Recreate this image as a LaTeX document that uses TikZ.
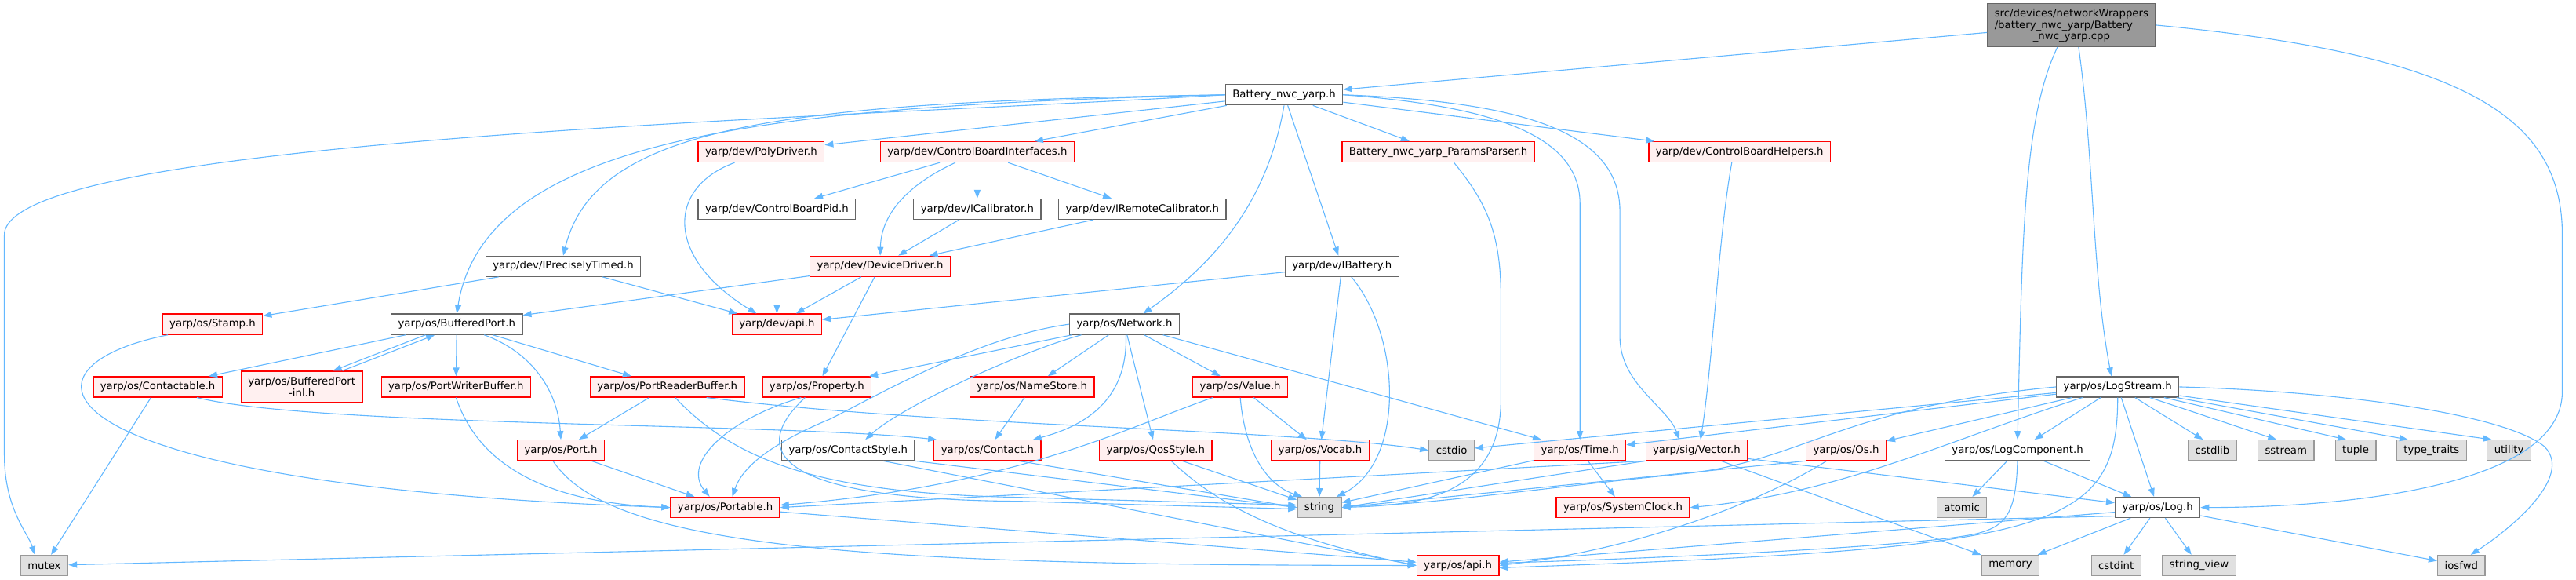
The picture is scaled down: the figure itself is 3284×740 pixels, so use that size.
\documentclass[tikz,border=0pt]{standalone}
\usepackage{fontspec}
\setmainfont{DejaVu Sans}
\usepackage{xcolor}
\usepackage{tikz}
\usetikzlibrary{arrows.meta, positioning}

\definecolor{edgeblue}{HTML}{63B8FF}
\definecolor{truncred}{HTML}{FF0000}
\definecolor{truncfill}{HTML}{FFF0F0}
\definecolor{sysfill}{HTML}{E0E0E0}
\definecolor{sysline}{HTML}{999999}
\definecolor{hdrline}{HTML}{666666}

\begin{document}
\begin{tikzpicture}[
    x=1pt, y=-1pt,
    box/.style={rectangle, draw, line width=1.3pt, minimum height=26pt, inner xsep=9pt, inner ysep=2pt, align=center, font=\fontsize{13.3}{15.5}\selectfont, fill=white},
    hdr/.style={box, draw=hdrline},
    trunc/.style={box, draw=truncred, fill=truncfill},
    syshdr/.style={box, draw=sysline, fill=sysfill},
    srcfile/.style={box, draw=hdrline, fill=sysline, minimum height=55pt},
    arrow/.style={-{Triangle[length=11pt, width=8pt]}, line width=1.1pt, color=edgeblue}
]
    \path[fill=white] (0,0) rectangle (3284,740);

    % Source file
    \node[srcfile] (root) at (2646,32) {\begin{tabular}{@{}l@{}}src/devices/networkWrappers\\/battery\_nwc\_yarp/Battery\end{tabular}\\\_nwc\_yarp.cpp};

    % Device headers
    \node[hdr] (bh) at (1640,121) {Battery\_nwc\_yarp.h};
    \node[trunc] (poly) at (972,194) {yarp/dev/PolyDriver.h};
    \node[trunc] (cbi) at (1248,194) {yarp/dev/ControlBoardInterfaces.h};
    \node[trunc] (params) at (1837,194) {Battery\_nwc\_yarp\_ParamsParser.h};
    \node[trunc] (cbhelp) at (2222,194) {yarp/dev/ControlBoardHelpers.h};
    \node[hdr] (cbpid) at (992,267) {yarp/dev/ControlBoardPid.h};
    \node[hdr] (ical) at (1248,267) {yarp/dev/ICalibrator.h};
    \node[hdr] (irem) at (1459,267) {yarp/dev/IRemoteCalibrator.h};
    \node[hdr] (iprec) at (719,340) {yarp/dev/IPreciselyTimed.h};
    \node[trunc] (ddrv) at (1124,340) {yarp/dev/DeviceDriver.h};
    \node[hdr] (ibat) at (1714,340) {yarp/dev/IBattery.h};

    % OS headers
    \node[trunc] (stamp) at (271,414) {yarp/os/Stamp.h};
    \node[hdr] (bport) at (583,414) {yarp/os/BufferedPort.h};
    \node[trunc] (devapi) at (992,414) {yarp/dev/api.h};
    \node[hdr] (network) at (1436,414) {yarp/os/Network.h};
    \node[trunc] (contactable) at (201,494) {yarp/os/Contactable.h};
    \node[trunc, minimum height=40pt] (bportinl) at (385,494) {yarp/os/BufferedPort\\-inl.h};
    \node[trunc] (pwbuf) at (582,494) {yarp/os/PortWriterBuffer.h};
    \node[trunc] (prbuf) at (852,494) {yarp/os/PortReaderBuffer.h};
    \node[trunc] (property) at (1043,494) {yarp/os/Property.h};
    \node[trunc] (namestore) at (1318,494) {yarp/os/NameStore.h};
    \node[trunc] (value) at (1584,494) {yarp/os/Value.h};
    \node[hdr] (logstream) at (2705,494) {yarp/os/LogStream.h};
    \node[trunc] (port) at (716,575) {yarp/os/Port.h};
    \node[hdr] (cstyle) at (1083,575) {yarp/os/ContactStyle.h};
    \node[trunc] (contact) at (1261,575) {yarp/os/Contact.h};
    \node[trunc] (qos) at (1476,575) {yarp/os/QosStyle.h};
    \node[trunc] (vocab) at (1686,575) {yarp/os/Vocab.h};
    \node[trunc] (time) at (2018,575) {yarp/os/Time.h};
    \node[trunc] (vector) at (2167,575) {yarp/sig/Vector.h};
    \node[trunc] (os) at (2358,575) {yarp/os/Os.h};
    \node[hdr] (logcomp) at (2577,575) {yarp/os/LogComponent.h};
    \node[trunc] (portable) at (926,648) {yarp/os/Portable.h};
    \node[trunc] (sysclock) at (2073,648) {yarp/os/SystemClock.h};
    \node[hdr] (log) at (2756,648) {yarp/os/Log.h};
    \node[trunc] (osapi) at (1862,722) {yarp/os/api.h};

    % System headers
    \node[syshdr] (cstdio) at (1854,575) {cstdio};
    \node[syshdr] (cstdlib) at (2826,575) {cstdlib};
    \node[syshdr] (sstream) at (2920,575) {sstream};
    \node[syshdr] (tuple) at (3009,575) {tuple};
    \node[syshdr] (typetraits) at (3106,575) {type\_traits};
    \node[syshdr] (utility) at (3205,575) {utility};
    \node[syshdr] (string) at (1685,648) {string};
    \node[syshdr] (atomic) at (2506,648) {atomic};
    \node[syshdr] (mutex) at (56,722) {mutex};
    \node[syshdr] (memory) at (2568,722) {memory};
    \node[syshdr] (cstdint) at (2703,722) {cstdint};
    \node[syshdr] (stringview) at (2809,722) {string\_view};
    \node[syshdr] (iosfwd) at (3144,722) {iosfwd};

    % Arrows from the source file
    \draw[arrow] (root) -- (bh);
    \draw[arrow] ([xshift=-18pt]root.south) .. controls (2585,150) and (2583,300) .. (logcomp.north);
    \draw[arrow] ([xshift=9pt]root.south) .. controls (2675,200) and (2672,350) .. ([xshift=-8pt]logstream.north);
    \draw[arrow] (root.east) .. controls (3150,70) and (3273,150) .. (3273,300) -- (3273,500) .. controls (3273,620) and (3000,648) .. (log.east);

    % Arrows from Battery_nwc_yarp.h
    \draw[arrow] (bh.west) .. controls (1100,150) and (5,175) .. (5,300) -- (5,580) .. controls (5,650) and (35,680) .. ([xshift=-12pt]mutex.north);
    \draw[arrow] (bh.west) .. controls (1000,130) and (760,160) .. (iprec.north);
    \draw[arrow] (bh.west) .. controls (1000,135) and (620,170) .. (bport.north);
    \draw[arrow] (bh) -- (poly);
    \draw[arrow] (bh) -- (cbi);
    \draw[arrow] (bh.south) .. controls (1620,250) and (1560,330) .. ([xshift=24pt]network.north);
    \draw[arrow] (bh) -- (ibat);
    \draw[arrow] (bh) -- (params);
    \draw[arrow] (bh.east) .. controls (1900,135) and (2018,170) .. (2018,260) -- (time.north);
    \draw[arrow] (bh.east) .. controls (1950,130) and (2069,170) .. (2069,270) -- (2069,430) .. controls (2069,490) and (2130,520) .. ([xshift=-22pt]vector.north);
    \draw[arrow] (bh) -- (cbhelp);

    % Arrows between device headers
    \draw[arrow] ([xshift=-34pt]poly.south) .. controls (850,240) and (850,330) .. ([xshift=-26pt]devapi.north);
    \draw[arrow] (cbi) -- (cbpid);
    \draw[arrow] (cbi) -- (ical);
    \draw[arrow] (cbi) -- (irem);
    \draw[arrow] ([xshift=-28pt]cbi.south) .. controls (1150,240) and (1125,280) .. (ddrv.north);
    \draw[arrow] (cbpid) -- (devapi);
    \draw[arrow] (ical) -- (ddrv);
    \draw[arrow] (irem) -- (ddrv);
    \draw[arrow] (ddrv) -- (bport);
    \draw[arrow] (ddrv) -- (devapi);
    \draw[arrow] (ddrv) -- (property);
    \draw[arrow] (iprec) -- (stamp);
    \draw[arrow] (iprec) -- (devapi);
    \draw[arrow] (ibat) -- (devapi);
    \draw[arrow] (ibat) -- (vocab);
    \draw[arrow] ([xshift=12pt]ibat.south) .. controls (1790,430) and (1795,590) .. ([xshift=22pt]string.north);
    \draw[arrow] ([xshift=20pt]params.south) .. controls (1900,260) and (1917,300) .. (1917,380) -- (1917,510) .. controls (1917,640) and (1800,645) .. (string.east);
    \draw[arrow] ([xshift=-10pt]cbhelp.south) .. controls (2195,300) and (2188,460) .. ([xshift=5pt]vector.north);

    % Arrows between port headers
    \draw[arrow] ([xshift=-57pt]stamp.south) .. controls (0,470) and (40,620) .. (portable.west);
    \draw[arrow] (bport) -- (contactable);
    \draw[arrow] ([xshift=-40pt]bport.south) -- ([xshift=40pt]bportinl.north);
    \draw[arrow] ([xshift=52pt]bportinl.north) -- ([xshift=-28pt]bport.south);
    \draw[arrow] (bport) -- (pwbuf);
    \draw[arrow] ([xshift=35pt]bport.south) .. controls (680,450) and (712,500) .. (port.north);
    \draw[arrow] (bport) -- (prbuf);
    \draw[arrow] (contactable) -- (mutex);
    \draw[arrow] ([xshift=50pt]contactable.south) .. controls (400,545) and (1000,540) .. ([xshift=4pt]contact.north west);
    \draw[arrow] (pwbuf.south) .. controls (600,560) and (650,640) .. (portable.west);
    \draw[arrow] (prbuf) -- (port);
    \draw[arrow] ([xshift=50pt]prbuf.south) .. controls (1200,545) and (1650,548) .. (cstdio.west);
    \draw[arrow] ([xshift=10pt]prbuf.south) .. controls (940,590) and (1050,630) .. (1300,635) -- ([yshift=3pt]string.west);
    \draw[arrow] (port) -- (portable);
    \draw[arrow] ([xshift=-10pt]port.south) .. controls (780,700) and (1100,722) .. (osapi.west);

    % Arrows from Network.h and its includes
    \draw[arrow] (network.west) .. controls (1250,430) and (1130,500) .. (1060,535) .. controls (1000,560) and (950,590) .. ([xshift=9pt]portable.north);
    \draw[arrow] (network) -- (property);
    \draw[arrow] ([xshift=-55pt]network.south) .. controls (1300,450) and (1150,520) .. ([xshift=22pt]cstyle.north);
    \draw[arrow] (network) -- (namestore);
    \draw[arrow] ([xshift=2pt]network.south) .. controls (1440,500) and (1400,540) .. ([xshift=58pt]contact.north);
    \draw[arrow] (network) -- (qos);
    \draw[arrow] (network) -- (value);
    \draw[arrow] (network) -- (time);
    \draw[arrow] ([xshift=-20pt]property.south) .. controls (930,535) and (870,590) .. ([xshift=-20pt]portable.north);
    \draw[arrow] ([xshift=-15pt]property.south) .. controls (950,580) and (1000,638) .. (1300,640) -- ([yshift=-2pt]string.west);
    \draw[arrow] (namestore) -- (contact);
    \draw[arrow] ([xshift=-35pt]value.south) .. controls (1440,545) and (1300,620) .. ([yshift=3pt]portable.east);
    \draw[arrow] (value) -- (vocab);
    \draw[arrow] (value.south) .. controls (1590,580) and (1620,620) .. ([xshift=-22pt]string.north);
    \draw[arrow] (cstyle.south east) -- (string.west);
    \draw[arrow] ([xshift=45pt]cstyle.south) -- (osapi.west);
    \draw[arrow] ([xshift=40pt]contact.south) -- (string.west);
    \draw[arrow] ([xshift=20pt]qos.south) .. controls (1560,650) and (1650,690) .. (osapi.west);
    \draw[arrow] ([xshift=34pt]qos.south) -- (string);
    \draw[arrow] (vocab) -- (string);
    \draw[arrow] (portable) -- (osapi);

    % Arrows from time, vector and os headers
    \draw[arrow] (time) -- (string);
    \draw[arrow] (time) -- (sysclock);
    \draw[arrow] (vector.south west) -- (string.east);
    \draw[arrow] (vector.south west) -- (portable.east);
    \draw[arrow] ([yshift=3pt]vector.south east) -- ([yshift=6pt]log.west);
    \draw[arrow] ([xshift=-34pt]vector.south east) -- (memory);
    \draw[arrow] (os.south west) -- (string.east);
    \draw[arrow] ([xshift=-25pt]os.south) .. controls (2250,640) and (2100,700) .. (osapi.east);

    % Arrows from LogStream.h
    \draw[arrow] (logstream) -- (cstdio);
    \draw[arrow] (logstream) -- (time);
    \draw[arrow] (logstream.west) .. controls (2350,520) and (2300,590) .. (2150,605) .. controls (1950,625) and (1800,648) .. ([yshift=3pt]string.east);
    \draw[arrow] (logstream) -- (os);
    \draw[arrow] ([xshift=-45pt]logstream.south) .. controls (2480,565) and (2350,630) .. (sysclock.east);
    \draw[arrow] (logstream) -- (logcomp);
    \draw[arrow] (logstream) -- (log);
    \draw[arrow] (logstream.south) .. controls (2705,680) and (2620,700) .. ([yshift=-3pt]osapi.east);
    \draw[arrow] (logstream) -- ([xshift=-12pt]cstdlib.north);
    \draw[arrow] (logstream) -- ([xshift=-12pt]sstream.north);
    \draw[arrow] (logstream) -- ([xshift=-12pt]tuple.north);
    \draw[arrow] (logstream) -- ([xshift=-30pt]typetraits.north);
    \draw[arrow] (logstream) -- ([xshift=-22pt]utility.north);
    \draw[arrow] (logstream.east) .. controls (3000,500) and (3200,530) .. (3250,570) .. controls (3290,610) and (3200,680) .. ([xshift=12pt]iosfwd.north);

    % Arrows from LogComponent.h and Log.h
    \draw[arrow] (logcomp) -- (atomic);
    \draw[arrow] (logcomp) -- (log);
    \draw[arrow] (logcomp.south) .. controls (2575,650) and (2565,670) .. (2530,680) .. controls (2480,695) and (2200,710) .. ([yshift=3pt]osapi.east);
    \draw[arrow] ([yshift=-11pt]log.west) -- (mutex);
    \draw[arrow] ([yshift=-6pt]log.west) -- (osapi);
    \draw[arrow] (log) -- (memory);
    \draw[arrow] (log) -- (cstdint);
    \draw[arrow] (log) -- (stringview);
    \draw[arrow] (log) -- (iosfwd);
\end{tikzpicture}
\end{document}
